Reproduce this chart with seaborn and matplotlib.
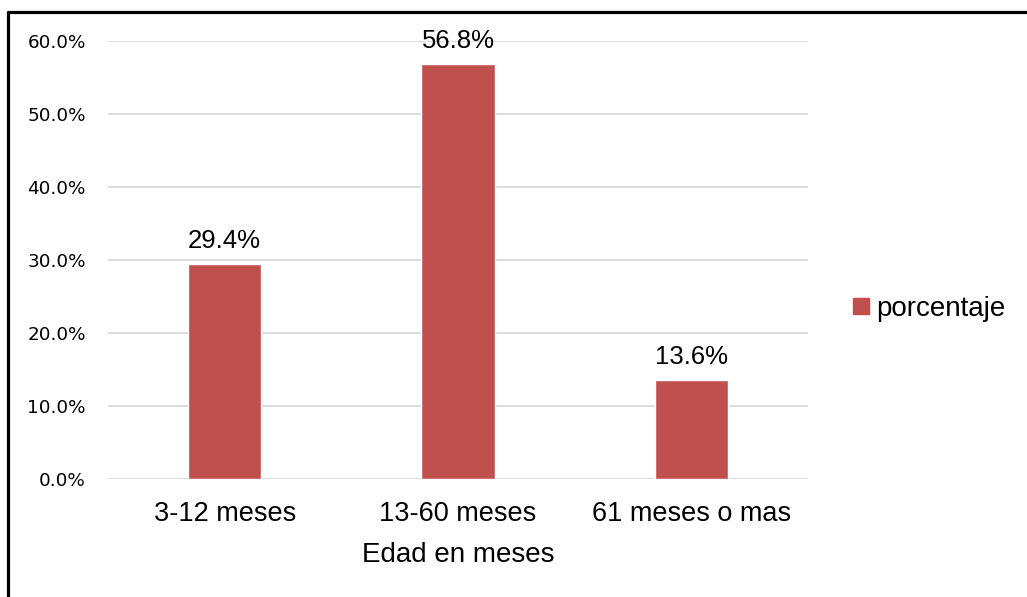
import matplotlib
matplotlib.use("Agg")
import matplotlib.pyplot as plt
from matplotlib.lines import Line2D
from matplotlib.ticker import FuncFormatter, MultipleLocator
import seaborn as sns
import pandas as pd

categorias = ["3-12 meses", "13-60 meses", "61 meses o mas"]
porcentaje = [29.4, 56.8, 13.6]
etiquetas = ["29.4%", "56.8%", "13.6%"]

sns.set_theme(style="white")
plt.rcParams["font.family"] = ["Liberation Sans", "DejaVu Sans"]
plt.rcParams["text.color"] = "black"
plt.rcParams["axes.labelcolor"] = "black"
plt.rcParams["xtick.color"] = "black"
plt.rcParams["ytick.color"] = "black"

W, H = 1027, 597
fig = plt.figure(figsize=(W / 100, H / 100), dpi=100)
ax = fig.add_axes([108 / W, 1 - 479 / H, 700 / W, 438 / H])

df = pd.DataFrame({"edad": categorias, "porcentaje": porcentaje})
bar_color = "#C0504D"
sns.barplot(data=df, x="edad", y="porcentaje", color=bar_color, width=0.315,
            saturation=1, ax=ax, zorder=3)

ax.set_ylim(0, 60)
ax.set_xlim(-0.5, 2.5)
ax.yaxis.set_major_locator(MultipleLocator(10))
ax.yaxis.set_major_formatter(FuncFormatter(lambda v, _: f"{v:.1f}%"))
ax.grid(axis="y", color="#D9D9D9", linewidth=1.3, zorder=0)
ax.grid(axis="x", visible=False)
for s in ax.spines.values():
    s.set_visible(False)
ax.tick_params(axis="y", length=0, pad=16, labelsize=13.2)
ax.tick_params(axis="x", length=0, pad=16, labelsize=19.5)
for lab in ax.get_yticklabels():
    lab.set_fontfamily("DejaVu Sans")

ax.set_xlabel("Edad en meses", fontsize=20, labelpad=11)
ax.set_ylabel("")

for i, (v, t) in enumerate(zip(porcentaje, etiquetas)):
    ax.annotate(t, (i, v), xytext=(0, 8), textcoords="offset points",
                ha="center", va="bottom", fontsize=18.5, color="black",
                annotation_clip=False)

handle = Line2D([], [], marker="s", linestyle="none", markersize=11,
                markerfacecolor=bar_color, markeredgecolor=bar_color)
fig.legend([handle], ["porcentaje"], loc="center left",
           bbox_to_anchor=(833 / W, 1 - 309 / H), frameon=False,
           fontsize=20, handletextpad=0.05, handlelength=1.0, borderpad=0)

# Frame on the top and left edges of the figure
fig.add_artist(Line2D([8 / W, 8 / W], [1 - 12 / H, -0.05], transform=fig.transFigure,
                      color="black", linewidth=2.3))
fig.add_artist(Line2D([8 / W, 1.05], [1 - 12 / H, 1 - 12 / H], transform=fig.transFigure,
                      color="black", linewidth=2.3))

fig.savefig("out.png", dpi=100, facecolor="white")
